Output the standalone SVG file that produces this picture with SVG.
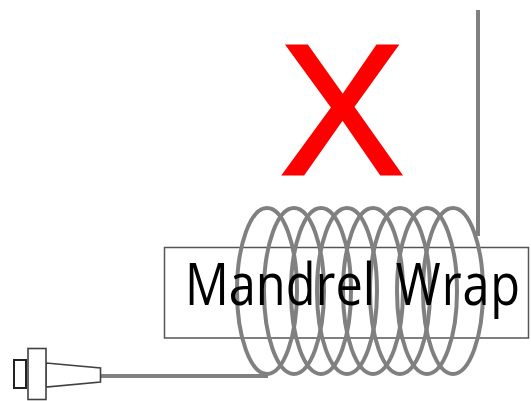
<svg xmlns="http://www.w3.org/2000/svg" width="531" height="401" viewBox="0 0 531 401">
<style>
.wire{fill:none;stroke:#808080;stroke-width:4}
.part{fill:#fff;stroke:#404040;stroke-width:1.6}
.plug-end{fill:#fff;stroke:#222;stroke-width:2}
.loop{fill:none;stroke:#808080;stroke-width:4}
</style>
<rect width="531" height="401" fill="#fff"/>
<g id="mandrel"><rect x="164.500" y="247.500" width="364" height="90.500" fill="#fff" stroke="#555" stroke-width="1.500"/></g>
<g id="connectors">
<path class="wire" d="M100 376H268"/>
<path class="wire" d="M478 10V236"/>
<g id="coil">
<ellipse class="loop" cx="267" cy="291" rx="30" ry="83"/>
<ellipse class="loop" cx="294" cy="291" rx="30" ry="83"/>
<ellipse class="loop" cx="321" cy="291" rx="30" ry="83"/>
<ellipse class="loop" cx="347" cy="291" rx="30" ry="83"/>
<ellipse class="loop" cx="373" cy="291" rx="30" ry="83"/>
<ellipse class="loop" cx="400" cy="291" rx="30" ry="83"/>
<ellipse class="loop" cx="427" cy="291" rx="30" ry="83"/>
<ellipse class="loop" cx="453" cy="291" rx="30" ry="83"/>
</g>
</g>
<g id="mandrel-label"><text transform="translate(185 305) scale(.84 1)" font-family="'Open Sans',sans-serif" font-size="58" fill="#000">Mandrel<tspan x="251" letter-spacing="1">Wrap</tspan></text></g>
<g id="x-mark"><text x="342" y="173.500" text-anchor="middle" font-family="'Liberation Sans',sans-serif" font-size="186" fill="#f00" stroke="#f00" stroke-width="3">X</text></g>
<g id="fiber-plug">
<rect class="plug-end" x="14" y="360" width="12" height="28"/>
<path class="part" d="M46 363L100.500 368V382L46 387Z"/>
<rect class="part" x="28" y="348.500" width="18" height="51"/>
</g>
</svg>
